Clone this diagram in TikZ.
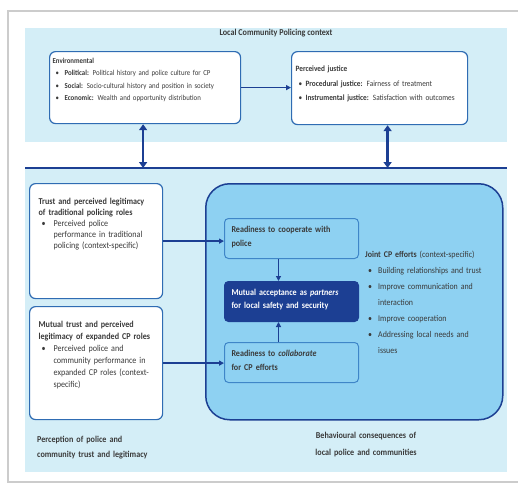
\documentclass[tikz,border=0pt]{standalone}
\usepackage{fontspec}
\setmainfont[FakeStretch=0.9]{Carlito}
\usetikzlibrary{arrows.meta,positioning}
\definecolor{cppanel}{HTML}{D4EEF7}
\definecolor{cpdark}{HTML}{1C3F93}
\definecolor{cpedge}{HTML}{2F6CB3}
\definecolor{cpsky}{HTML}{8ED1F2}
\definecolor{cpmid}{HTML}{3F86C8}
\definecolor{cptext}{HTML}{3A3A3A}
\newcommand{\itm}[1][9pt]{\hspace*{3pt}\makebox[#1][l]{\textbullet}}

\begin{document}
\begin{tikzpicture}[x=1pt, y=-1pt,
  wbox/.style={rounded corners=6pt, draw=cpedge, line width=1.2pt, fill=white,
    anchor=north west, align=left, inner ysep=3pt, text=cptext},
  ibox/.style={rounded corners=4pt, draw=cpmid, line width=1pt, fill=cpsky,
    anchor=north west, align=left, inner xsep=7pt, inner ysep=3pt, text width=120pt,
    text height=11pt, text depth=23pt, text=cptext, font=\bfseries\fontsize{9}{14}\selectfont},
  lbl/.style={text=cptext, align=left, inner sep=0pt, font=\fontsize{8.8}{16}\selectfont},
  arr/.style={-{Triangle[length=5pt,width=5pt]}, line width=1.3pt, cpdark},
  dbl/.style={{Triangle[length=6pt,width=8pt]}-{Triangle[length=6pt,width=8pt]}, line width=2.5pt, cpdark}
]
  \useasboundingbox (0,0) rectangle (518,487);
  \fill[white] (0,0) rectangle (518,487);
  \draw[gray!40, line width=1.2pt] (530,11) -- (8,11) -- (8,482) -- (530,482);

  % Context panel
  \fill[cppanel] (25,28) rectangle (507,142);
  \node[lbl, anchor=base, align=center, font=\bfseries\fontsize{9}{12}\selectfont] (title) at (276,36)
    {Local Community Policing context};
  \node[wbox, inner xsep=3pt, text width=185pt, text height=9pt, text depth=57pt,
    font=\fontsize{7.6}{12.3}\selectfont] (env) at (49,51)
    {\textbf{Environmental}\\
     \itm\textbf{Political:} Political history and police culture for CP\\
     \itm\textbf{Social:} Socio-cultural history and position in society\\
     \itm\textbf{Economic:} Wealth and opportunity distribution};
  \node[wbox, inner xsep=4pt, text width=168pt, text height=17pt, text depth=50pt,
    font=\fontsize{8.1}{14.5}\selectfont] (pj) at (291,51)
    {\textbf{Perceived justice}\\
     \itm[7pt]\textbf{Procedural justice:} Fairness of treatment\\
     \itm[7pt]\textbf{Instrumental justice:} Satisfaction with outcomes};
  \draw[arr] (env.east) -- (env.east -| pj.west);

  % Separator
  \coordinate (sepw) at (25,168);
  \coordinate (sepe) at (507,168);
  \fill[cppanel] (25,168) rectangle (507,472);
  \draw[cpdark, line width=2.5pt] (sepw) -- (sepe);
  \draw[dbl] ([xshift=-2pt]env.south) -- ([xshift=-2pt]env.south |- sepw);
  \draw[dbl] ([xshift=8pt]pj.south) -- ([xshift=8pt]pj.south |- sepw);

  % Perception side
  \node[wbox, inner xsep=9pt, text width=115pt, text height=18pt, text depth=91pt,
    font=\fontsize{9}{11}\selectfont] (trust) at (29,183)
    {\textbf{Trust and perceived legitimacy}\\
     \textbf{of traditional policing roles}\\
     \itm[12pt]Perceived police\\
     \hspace*{15pt}performance in traditional\\
     \hspace*{15pt}policing (context-specific)};
  \node[wbox, inner xsep=9pt, text width=115pt, text height=18pt, text depth=89pt,
    font=\fontsize{9}{12}\selectfont] (mtrust) at (29,306)
    {\textbf{Mutual trust and perceived}\\
     \textbf{legitimacy of expanded CP roles}\\
     \itm[12pt]Perceived police and\\
     \hspace*{15pt}community performance in\\
     \hspace*{15pt}expanded CP roles (context-\\
     \hspace*{15pt}specific)};
  \node[lbl, anchor=base west, text width=125pt, font=\bfseries\fontsize{9}{15}\selectfont] (percep) at (37,442)
    {Perception of police and\\community trust and legitimacy};

  % Behavioural side
  \node[anchor=north west, minimum width=297pt, minimum height=236pt, inner sep=0pt,
    rounded corners=24pt, fill=cpsky, draw=cpdark, line width=1.5pt] (cpbig) at (205,183) {};
  \node[ibox] (coop) at (224,218) {Readiness to cooperate with\\police};
  \node[ibox, fill=cpdark, draw=cpdark, text=white, text height=11pt, text depth=23pt,
    font=\bfseries\fontsize{9}{13}\selectfont] (accept) at (224,281)
    {Mutual acceptance as \emph{partners}\\for local safety and security};
  \node[ibox] (collab) at (224,342) {Readiness to \emph{collaborate}\\for CP efforts};
  \draw[arr] (trust.east) -- (trust.east -| coop.west);
  \draw[arr] (mtrust.east) -- (mtrust.east -| collab.west);
  \draw[arr] ([xshift=-13pt]coop.south) -- ([xshift=-13pt]accept.north);
  \draw[arr] ([xshift=-13pt]collab.north) -- ([xshift=-13pt]accept.south);
  \node[lbl, anchor=base west, text width=135pt] (joint) at (365,257)
    {\textbf{Joint CP efforts} (context-specific)\\
     \itm[10pt]Building relationships and trust\\
     \itm[10pt]Improve communication and\\
     \hspace*{13pt}interaction\\
     \itm[10pt]Improve cooperation\\
     \itm[10pt]Addressing local needs and\\
     \hspace*{13pt}issues};
  \node[lbl, anchor=base, align=center, text width=150pt, font=\bfseries\fontsize{9}{17}\selectfont] (behav) at (366,438)
    {Behavioural consequences of\\local police and communities};
\end{tikzpicture}
\end{document}
